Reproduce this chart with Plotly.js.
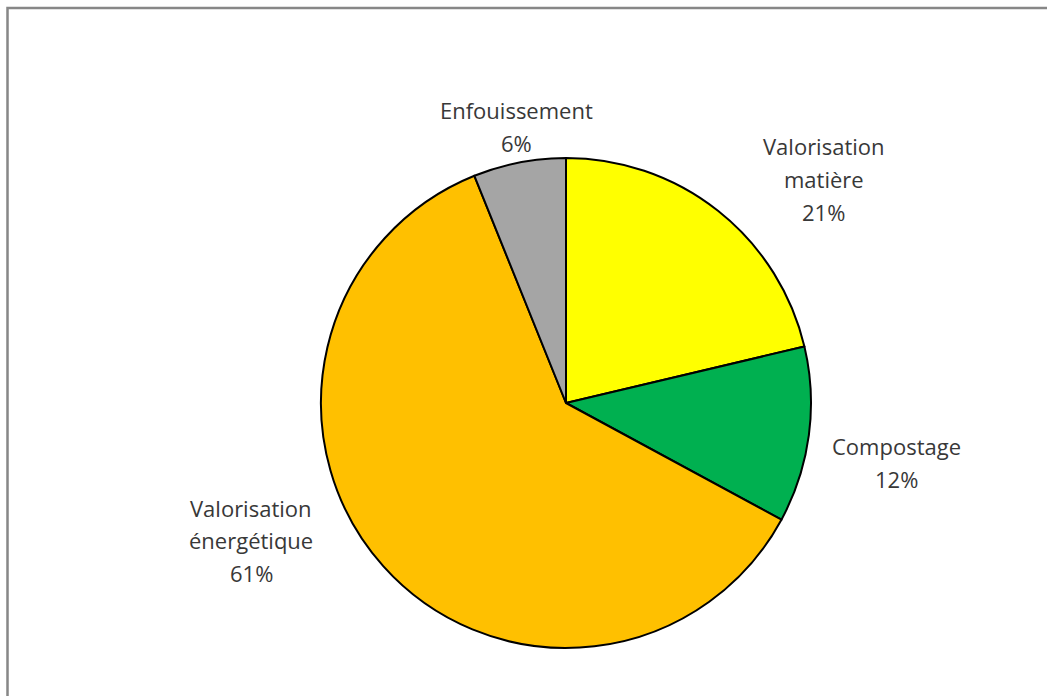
<!DOCTYPE html>
<html>
<head>
<meta charset="utf-8">
<script src="https://cdn.plot.ly/plotly-3.0.1.min.js"></script>
<style>html,body{margin:0;padding:0;background:#fff;}#chart{width:1047px;height:696px;}</style>
</head>
<body>
<div id="chart"></div>
<script>
// Data
var categories = ["Valorisation matière", "Compostage", "Valorisation énergétique", "Enfouissement"];
var values = [21.3, 11.6, 61.0, 6.1];
var colors = ["#FFFF00", "#00B050", "#FFC000", "#A5A5A5"];

// Label placement (pixel: center x, first-line baseline y)
var labelPos = [[824, 156], [896, 456], [251, 517], [516, 120]];

var W = 1047, H = 696;
var lineGap = 32.5, fontSize = 22;
function px(x) { return x / W; }
function py(y) { return 1 - y / H; }

var total = values.reduce(function (a, b) { return a + b; }, 0);
var annotations = [];
categories.forEach(function (c, i) {
  var lines = c.split(" ");
  lines.push(Math.round(values[i] / total * 100) + "%");
  lines.forEach(function (t, k) {
    annotations.push({
      text: t, showarrow: false, xref: "paper", yref: "paper",
      x: px(labelPos[i][0]), y: py(labelPos[i][1] + k * lineGap - 9.5),
      xanchor: "center", yanchor: "middle",
      font: {family: "Open Sans, sans-serif", size: fontSize, color: "#383838"}
    });
  });
});

var trace = {
  type: "pie",
  labels: categories,
  values: values,
  sort: false,
  direction: "clockwise",
  rotation: 0,
  textinfo: "none",
  hoverinfo: "label+percent",
  marker: {colors: colors, line: {color: "#000000", width: 2}},
  domain: {x: [px(321), px(811)], y: [py(648), py(158)]},
  showlegend: false
};

var layout = {
  width: W, height: H,
  margin: {l: 0, r: 0, t: 0, b: 0},
  paper_bgcolor: "#ffffff",
  showlegend: false,
  annotations: annotations,
  shapes: [{
    type: "rect", xref: "paper", yref: "paper",
    x0: px(7.5), x1: px(1060), y0: py(720), y1: py(8),
    line: {color: "#878787", width: 2.5}
  }]
};

Plotly.newPlot("chart", [trace], layout, {displayModeBar: false, staticPlot: true});
</script>
</body>
</html>
